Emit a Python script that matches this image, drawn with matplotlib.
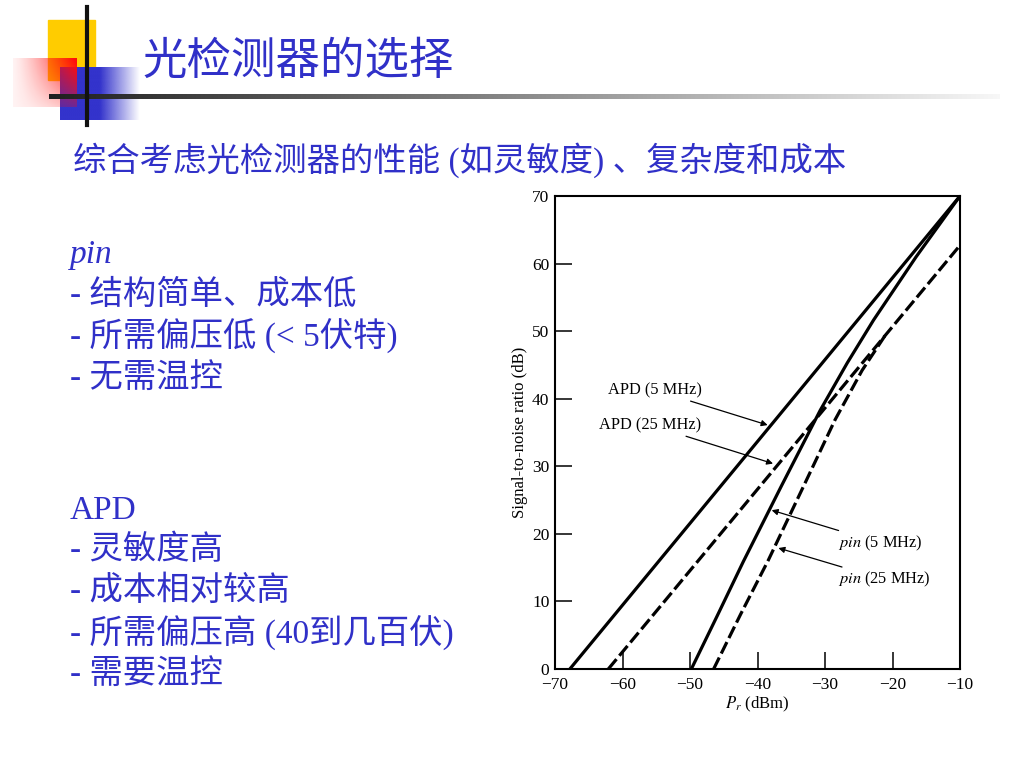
import numpy as np
import matplotlib.pyplot as plt
from matplotlib.patches import Rectangle

plt.rcParams['mathtext.fontset'] = 'stix'

# ------------------------------------------------------------------ data
apd5_x = [-67.8, -10.0]
apd5_y = [0.0, 70.0]

apd25_x = [-62.1, -10.0]
apd25_y = [0.0, 62.7]

pin5_x = [-49.8, -46.0, -42.1, -36.4, -30.7, -26.7, -22.8, -16.5, -10.0]
pin5_y = [0.0, 7.8, 15.9, 27.2, 38.3, 45.3, 51.65, 61.0, 70.0]

pin25_x = [-46.5, -42.5, -38.4, -33.2, -28.5, -24.5, -20.8]
pin25_y = [0.0, 8.1, 16.1, 27.0, 36.9, 44.2, 49.8]

xticks = [-70, -60, -50, -40, -30, -20, -10]
yticks = [0, 10, 20, 30, 40, 50, 60, 70]

# label text, text position, arrow tip (data coords)
labels = [("APD (5 MHz)", -48.3, 41.3, -38.5, 36.1, 'right'),
          ("APD (25 MHz)", -48.3, 36.1, -37.7, 30.4, 'right'),
          ("$\\mathit{pin}$ (5 MHz)", -28.0, 18.6, -37.9, 23.5, 'left'),
          ("$\\mathit{pin}$ (25 MHz)", -28.0, 13.2, -36.9, 17.9, 'left')]

title = "光检测器的选择"
subtitle = "综合考虑光检测器的性能 (如灵敏度) 、复杂度和成本"
pin_items = ["- 结构简单、成本低", "- 所需偏压低 (< 5伏特)", "- 无需温控"]
apd_items = ["- 灵敏度高", "- 成本相对较高", "- 所需偏压高 (40到几百伏)", "- 需要温控"]

blue = '#3030C8'
cjk = ['Liberation Serif', 'Noto Sans CJK SC']
serif = 'Liberation Serif'

fig = plt.figure(figsize=(10.24, 7.68), dpi=100)

# ------------------------------------------------------------ slide decor
bg = fig.add_axes([0, 0, 1, 1])
bg.set_xlim(0, 1024)
bg.set_ylim(768, 0)
bg.axis('off')

bg.add_patch(Rectangle((48, 20), 47, 60, color='#FFCC00', zorder=1))

# blue block, solid on the left, fading out to the right
w = 200
fr = np.linspace(0, 1, w)
a = np.clip((1 - fr) / 0.5, 0, 1)
img = np.zeros((10, w, 4))
img[..., 0] = 0.2
img[..., 1] = 0.2
img[..., 2] = 0.8
img[..., 3] = a[None, :]
bg.imshow(img, extent=(60, 140, 120, 67), aspect='auto', zorder=2)

# red block, strong top-right, fading left and down
xx, yy = np.meshgrid(np.linspace(0, 1, 120), np.linspace(0, 1, 100))
img = np.zeros((100, 120, 4))
img[..., 0] = 1.0
img[..., 1] = 0.05
img[..., 2] = 0.05
img[..., 3] = np.clip(xx ** 1.3 * (1 - 0.75 * yy ** 1.2) + 0.05, 0, 1)
bg.imshow(img, extent=(13, 77, 107, 58), aspect='auto', zorder=3)

# horizontal rule, dark to light
g = np.linspace(0.12, 0.97, 400)
img = np.stack([g, g, g], axis=-1)[None, :, :].repeat(3, axis=0)
bg.imshow(img, extent=(49, 1000, 99.5, 94.5), aspect='auto', zorder=4)
bg.plot([87, 87], [7, 125], color='#111111', lw=3, zorder=5)

bg.text(143, 62, title, color=blue, fontsize=32, family=cjk, va='center', ha='left')
bg.text(73, 160, subtitle, color=blue, fontsize=24, family=cjk, va='center', ha='left')

bg.text(70, 255, "pin", color=blue, fontsize=24, family=serif, style='italic', va='center')
for i, s in enumerate(pin_items):
    bg.text(70, 295 + i * 41.5, s, color=blue, fontsize=24, family=cjk, va='center')
bg.text(70, 511, "APD", color=blue, fontsize=24, family=serif, va='center')
for i, s in enumerate(apd_items):
    bg.text(70, 550 + i * 41.5, s, color=blue, fontsize=24, family=cjk, va='center')

# ------------------------------------------------------------------ chart
ax = fig.add_axes([555 / 1024, 99 / 768, 405 / 1024, 473 / 768])
ax.set_xlim(-70, -10)
ax.set_ylim(0, 70)

ax.plot(apd5_x, apd5_y, color='black', lw=2.3)
ax.plot(apd25_x, apd25_y, color='black', lw=2.3, dashes=(4, 1.4))
ax.plot(pin5_x, pin5_y, color='black', lw=2.3)
ax.plot(pin25_x, pin25_y, color='black', lw=2.3, dashes=(4, 1.4))

for s, tx, ty, px, py, ha in labels:
    ax.annotate(s, xy=(px, py), xytext=(tx, ty), ha=ha, va='center',
                fontsize=11.8, family=serif,
                arrowprops=dict(arrowstyle='-|>', color='black', lw=0.9,
                                mutation_scale=9, shrinkA=1, shrinkB=0))

ax.set_xticks(xticks)
ax.set_yticks(yticks)
ax.tick_params(direction='in', length=12, width=1.1, labelsize=12.5)
ax.tick_params(axis='x', pad=6)
ax.tick_params(axis='y', pad=4)
for lab in ax.get_xticklabels() + ax.get_yticklabels():
    lab.set_family(serif)
for sp in ax.spines.values():
    sp.set_linewidth(1.5)

ax.set_ylabel("Signal-to-noise ratio (dB)", family=serif, fontsize=12, labelpad=3)
ax.set_xlabel("$P_r$ (dBm)", family=serif, fontsize=12, labelpad=1)

fig.savefig('out.png', dpi=100)
